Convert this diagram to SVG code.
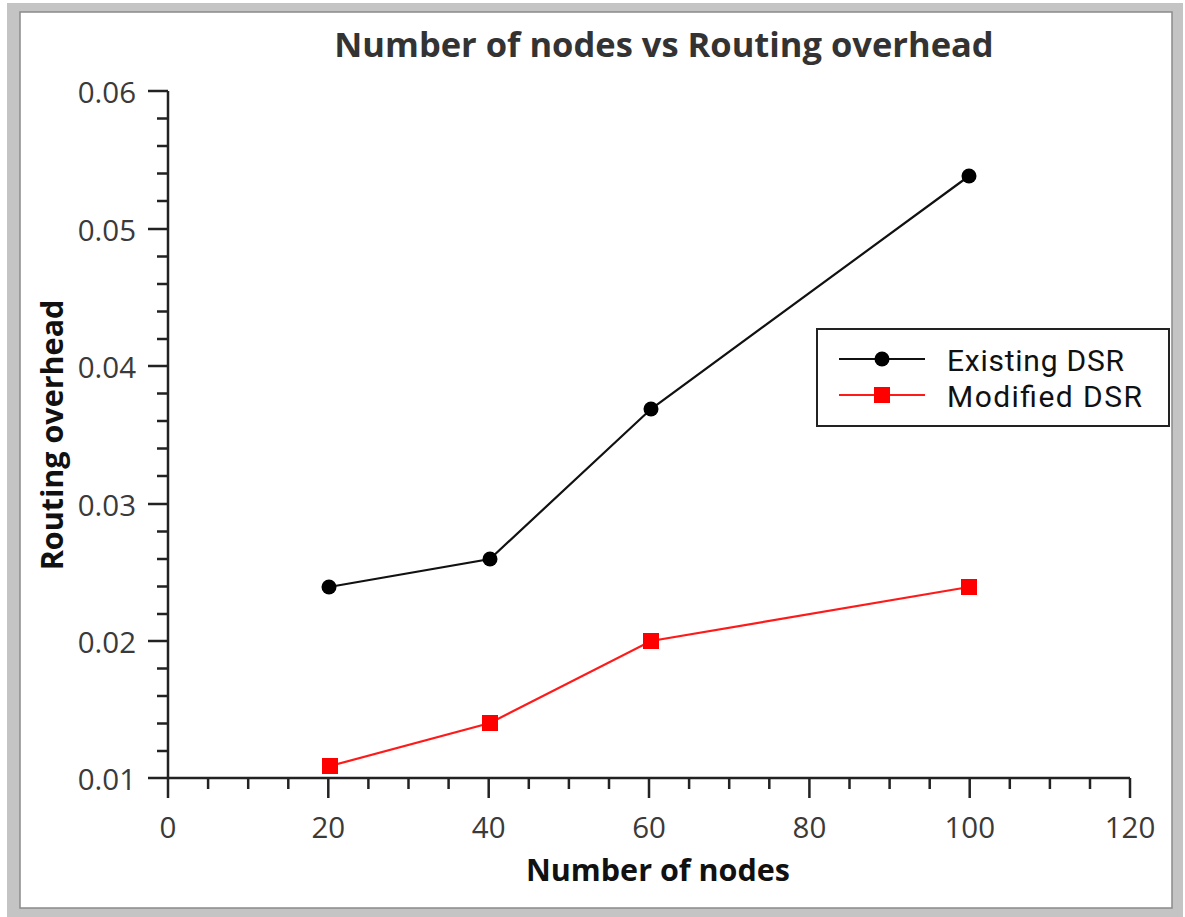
<svg xmlns="http://www.w3.org/2000/svg" width="1185" height="917" viewBox="0 0 1185 917">
  <style>
    .tick { stroke: #222; stroke-width: 2.5; fill: none; }
    .ylab { font-family: "Open Sans", "DejaVu Sans", sans-serif; font-size: 29.5px; fill: #3a3a3a; text-anchor: end; }
    .xlab { font-family: "Open Sans", "DejaVu Sans", sans-serif; font-size: 29.5px; fill: #3a3a3a; text-anchor: middle; }
    .title { font-family: "Open Sans", "DejaVu Sans", sans-serif; font-size: 34.5px; font-weight: bold; fill: #333; text-anchor: middle; }
    .axtitle { font-family: "Open Sans", "DejaVu Sans", sans-serif; font-size: 30.5px; font-weight: bold; fill: #111; text-anchor: middle; }
    .legtext { font-family: Roboto, "Open Sans", sans-serif; font-size: 30px; fill: #111; }
    .black { stroke: #111; stroke-width: 2.2; fill: none; }
    .red { stroke: #ff1a1a; stroke-width: 2.2; fill: none; }
  </style>
  <defs>
    <circle id="dot" r="7.5" fill="#000"/>
    <rect id="sq" x="-8" y="-8" width="16" height="16" fill="#f00"/>
  </defs>

  <!-- window frame -->
  <rect x="7" y="3" width="1176" height="914" fill="#c4c4c4"/>
  <rect x="20" y="12" width="1152" height="896" fill="#fff" stroke="#8a8a8a" stroke-width="1.5"/>

  <!-- title -->
  <text class="title" x="664" y="57">Number of nodes vs Routing overhead</text>

  <!-- axes -->
  <g id="axes">
    <line class="tick" x1="168" y1="91" x2="168" y2="798"/>
    <line class="tick" x1="148" y1="778" x2="1130" y2="778"/>
    <!-- y major ticks -->
    <path class="tick" d="M148 91H168 M148 229H168 M148 366H168 M148 504H168 M148 641H168"/>
    <!-- y minor ticks -->
    <path class="tick" d="M157 118.5H168 M157 146H168 M157 173.5H168 M157 201H168
                          M157 256.5H168 M157 284H168 M157 311.5H168 M157 339H168
                          M157 393.5H168 M157 421H168 M157 448.5H168 M157 476H168
                          M157 531.5H168 M157 559H168 M157 586.5H168 M157 614H168
                          M157 668.5H168 M157 696H168 M157 723.5H168 M157 751H168"/>
    <!-- x major ticks -->
    <path class="tick" d="M328.3 778V798 M488.7 778V798 M649 778V798 M809.4 778V798 M969.7 778V798 M1130 778V798"/>
    <!-- x minor ticks -->
    <path class="tick" d="M208.1 778V789 M248.2 778V789 M288.3 778V789
                          M368.4 778V789 M408.5 778V789 M448.6 778V789
                          M528.8 778V789 M568.9 778V789 M609 778V789
                          M689.1 778V789 M729.2 778V789 M769.3 778V789
                          M849.5 778V789 M889.6 778V789 M929.7 778V789
                          M1009.8 778V789 M1049.9 778V789 M1090 778V789"/>
  </g>

  <!-- tick labels -->
  <g id="ylabels">
    <text class="ylab" x="136" y="103">0.06</text>
    <text class="ylab" x="136" y="241">0.05</text>
    <text class="ylab" x="136" y="378">0.04</text>
    <text class="ylab" x="136" y="516">0.03</text>
    <text class="ylab" x="136" y="653">0.02</text>
    <text class="ylab" x="136" y="790">0.01</text>
  </g>
  <g id="xlabels">
    <text class="xlab" x="168" y="838">0</text>
    <text class="xlab" x="328.3" y="838">20</text>
    <text class="xlab" x="488.7" y="838">40</text>
    <text class="xlab" x="649" y="838">60</text>
    <text class="xlab" x="809.4" y="838">80</text>
    <text class="xlab" x="969.7" y="838">100</text>
    <text class="xlab" x="1130" y="838">120</text>
  </g>

  <!-- axis titles -->
  <text class="axtitle" x="658" y="881">Number of nodes</text>
  <text class="axtitle" transform="translate(63 435) rotate(-90)">Routing overhead</text>

  <!-- data series -->
  <g id="series-existing">
    <polyline class="black" points="329,587 490,559 651,409 969,176"/>
    <use href="#dot" x="329" y="587"/>
    <use href="#dot" x="490" y="559"/>
    <use href="#dot" x="651" y="409"/>
    <use href="#dot" x="969" y="176"/>
  </g>
  <g id="series-modified">
    <polyline class="red" points="330,766 490,723 651,641 969,587"/>
    <use href="#sq" x="330" y="766"/>
    <use href="#sq" x="490" y="723"/>
    <use href="#sq" x="651" y="641"/>
    <use href="#sq" x="969" y="587"/>
  </g>

  <!-- legend -->
  <g id="legend">
    <rect x="817" y="329" width="352" height="97" fill="#fff" stroke="#222" stroke-width="2"/>
    <line class="black" x1="839" y1="359" x2="925" y2="359"/>
    <use href="#dot" x="882" y="359"/>
    <text class="legtext" x="947" y="371" textLength="177" lengthAdjust="spacing">Existing DSR</text>
    <line class="red" x1="839" y1="395" x2="925" y2="395"/>
    <use href="#sq" x="882" y="395"/>
    <text class="legtext" x="947" y="407" textLength="195" lengthAdjust="spacing">Modified DSR</text>
  </g>
</svg>
